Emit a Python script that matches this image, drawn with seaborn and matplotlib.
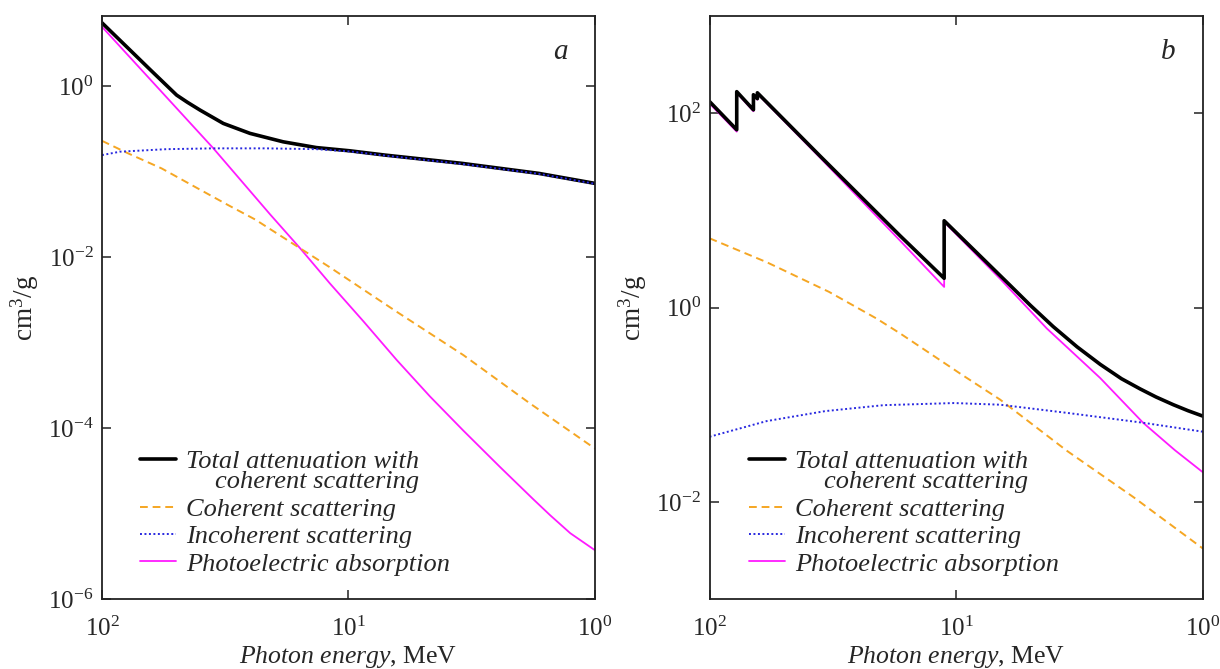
import numpy as np
import matplotlib
matplotlib.use('Agg')
import matplotlib.pyplot as plt
import seaborn as sns
from matplotlib.ticker import LogLocator, NullLocator

# --- Panel a data (photon energy, cm3/g) ---
e_a_total = [100, 74.6, 63.8, 49.8, 45.0, 40.0, 32.2, 25.1, 18.4, 13.5, 9.86, 7.11,
             3.48, 1.69, 1.0]
mu_a_total = [5.5, 2.42, 1.56, 0.785, 0.646, 0.524, 0.366, 0.280, 0.223, 0.191, 0.175,
              0.156, 0.125, 0.0953, 0.0728]

e_a_coh = [100, 78.2, 57.3, 42.0, 30.8, 23.9, 15.7, 11.9, 6.37, 3.42, 1.84, 1.0]
mu_a_coh = [0.229, 0.163, 0.109, 0.0664, 0.0406, 0.0275, 0.01265, 0.00759, 0.00229,
            7.14e-4, 1.95e-4, 5.75e-5]

e_a_incoh = [100, 84.5, 54.7, 35.3, 21.5, 13.5, 9.86, 7.11, 3.48, 1.69, 1.0]
mu_a_incoh = [0.156, 0.171, 0.183, 0.187, 0.187, 0.183, 0.172, 0.154, 0.123, 0.0942, 0.0719]

e_a_photo = [100, 35.3, 20.8, 15.7, 11.9, 8.71, 6.37, 4.67, 3.42, 2.43, 1.78, 1.52,
             1.26, 1.0]
mu_a_photo = [4.94, 0.1866, 0.0316, 0.01265, 0.00492, 0.00178, 6.24e-4, 2.34e-4,
              9.33e-5, 3.51e-5, 1.47e-5, 9.55e-6, 5.89e-6, 3.72e-6]

# --- Panel b data ---
e_b_total = [100, 77.6, 77.6, 66.4, 66.4, 64.0, 64.0, 35.6, 16.9, 11.2, 11.2,
             6.05, 5.01, 4.05, 3.24, 2.61, 2.14, 1.80, 1.55, 1.32, 1.15, 1.0]
mu_b_total = [131.8, 67.6, 166.7, 108.4, 154.9, 141.3, 162.2, 36.1, 5.48, 2.0, 7.82,
              1.69, 1.054, 0.637, 0.394, 0.260, 0.185, 0.1455, 0.120, 0.100, 0.0867, 0.0762]

e_b_coh = [100, 58.7, 32.8, 21.1, 16.9, 9.48, 6.65, 3.56, 1.91, 1.0]
mu_b_coh = [5.16, 2.93, 1.45, 0.773, 0.542, 0.203, 0.113, 0.0335, 0.01114, 0.0033]

e_b_incoh = [100, 58.7, 34.0, 19.7, 10.2, 6.65, 3.56, 1.75, 1.0]
mu_b_incoh = [0.0468, 0.0678, 0.0859, 0.0989, 0.104, 0.100, 0.0824, 0.0652, 0.0527]

e_b_photo = [100, 77.6, 77.6, 66.4, 66.4, 64.0, 64.0, 35.6, 16.9, 11.2, 11.2,
             6.65, 4.30, 2.61, 1.75, 1.30, 1.0]
mu_b_photo = [125.9, 64.6, 162.2, 104.7, 151.4, 138.0, 158.5, 34.7, 4.88, 1.63, 7.59,
              1.98, 0.610, 0.188, 0.0652, 0.034, 0.0201]

labels = ['Total attenuation with\ncoherent scattering', 'Coherent scattering',
          'Incoherent scattering', 'Photoelectric absorption']
panel_names = ['a', 'b']

# --- Style ---
sns.set_style('ticks')
plt.rcParams['font.family'] = ['Liberation Serif', 'DejaVu Serif']
plt.rcParams['mathtext.fontset'] = 'custom'
plt.rcParams['mathtext.rm'] = 'Liberation Serif'
plt.rcParams['mathtext.it'] = 'Liberation Serif:italic'
plt.rcParams['axes.edgecolor'] = '#222222'
plt.rcParams['axes.linewidth'] = 1.3

fig = plt.figure(figsize=(12.2, 6.69), dpi=100)
ax_a = fig.add_axes([0.0836, 0.1046, 0.4041, 0.8714])
ax_b = fig.add_axes([0.5816, 0.1046, 0.4045, 0.8714])

panels = [
    (ax_a, (e_a_total, mu_a_total), (e_a_coh, mu_a_coh), (e_a_incoh, mu_a_incoh),
     (e_a_photo, mu_a_photo), (1e-6, 6.6), [1e0, 1e-2, 1e-4, 1e-6], 0.077),
    (ax_b, (e_b_total, mu_b_total), (e_b_coh, mu_b_coh), (e_b_incoh, mu_b_incoh),
     (e_b_photo, mu_b_photo), (1e-3, 1e3), [1e2, 1e0, 1e-2], 0.080),
]

for (ax, tot, coh, inc, pho, ylim, yticks, legx), name in zip(panels, panel_names):
    ax.set_xscale('log')
    ax.set_yscale('log')
    kw = dict(ax=ax, estimator=None, sort=False, legend=False)
    sns.lineplot(x=pho[0], y=pho[1], color='#ff1aff', lw=1.3, **kw)
    sns.lineplot(x=tot[0], y=tot[1], color='black', lw=2.6, **kw)
    sns.lineplot(x=coh[0], y=coh[1], color='#f5a623', lw=1.4, linestyle=(0, (4, 2.5)), **kw)
    sns.lineplot(x=inc[0], y=inc[1], color='#2828e0', lw=1.4, linestyle=(0, (1, 1.3)), **kw)

    ax.set_xlim(100, 1)
    ax.set_ylim(*ylim)
    ax.xaxis.set_major_locator(LogLocator(base=10, numticks=10))
    ax.xaxis.set_minor_locator(NullLocator())
    ax.set_yticks(yticks)
    ax.yaxis.set_minor_locator(NullLocator())
    ax.tick_params(axis='both', which='major', direction='in', length=6.5, width=1.1,
                   top=True, right=True, labelsize=18, color='#222222')
    ax.tick_params(axis='x', pad=13)
    ax.tick_params(axis='y', pad=6)
    ax.set_xlabel(r'$\mathit{Photon\ energy}$, MeV', fontsize=18.5, labelpad=2)
    ax.set_ylabel(r'cm$^\mathregular{3}$/g', fontsize=19.5, labelpad=5)
    ax.text(0.93, 0.938, name, transform=ax.transAxes, fontsize=21, fontstyle='italic',
            ha='center', va='center')

    handles = [ax.lines[1], ax.lines[2], ax.lines[3], ax.lines[0]]
    leg = ax.legend(handles, labels, loc='lower left', bbox_to_anchor=(legx, 0.04),
                    frameon=False, borderpad=0, borderaxespad=0, handlelength=1.35,
                    handletextpad=0.4, labelspacing=0.15,
                    prop={'size': 19, 'style': 'italic', 'family': 'Liberation Serif'})
    t0 = leg.get_texts()[0]
    t0.set_multialignment('right')
    t0.set_linespacing(0.93)
    # put the black legend line next to the first text line
    h0 = leg.legend_handles[0]
    h0.set_ydata(np.asarray(h0.get_ydata()) + 8.5)

fig.savefig('out.png', dpi=100)
